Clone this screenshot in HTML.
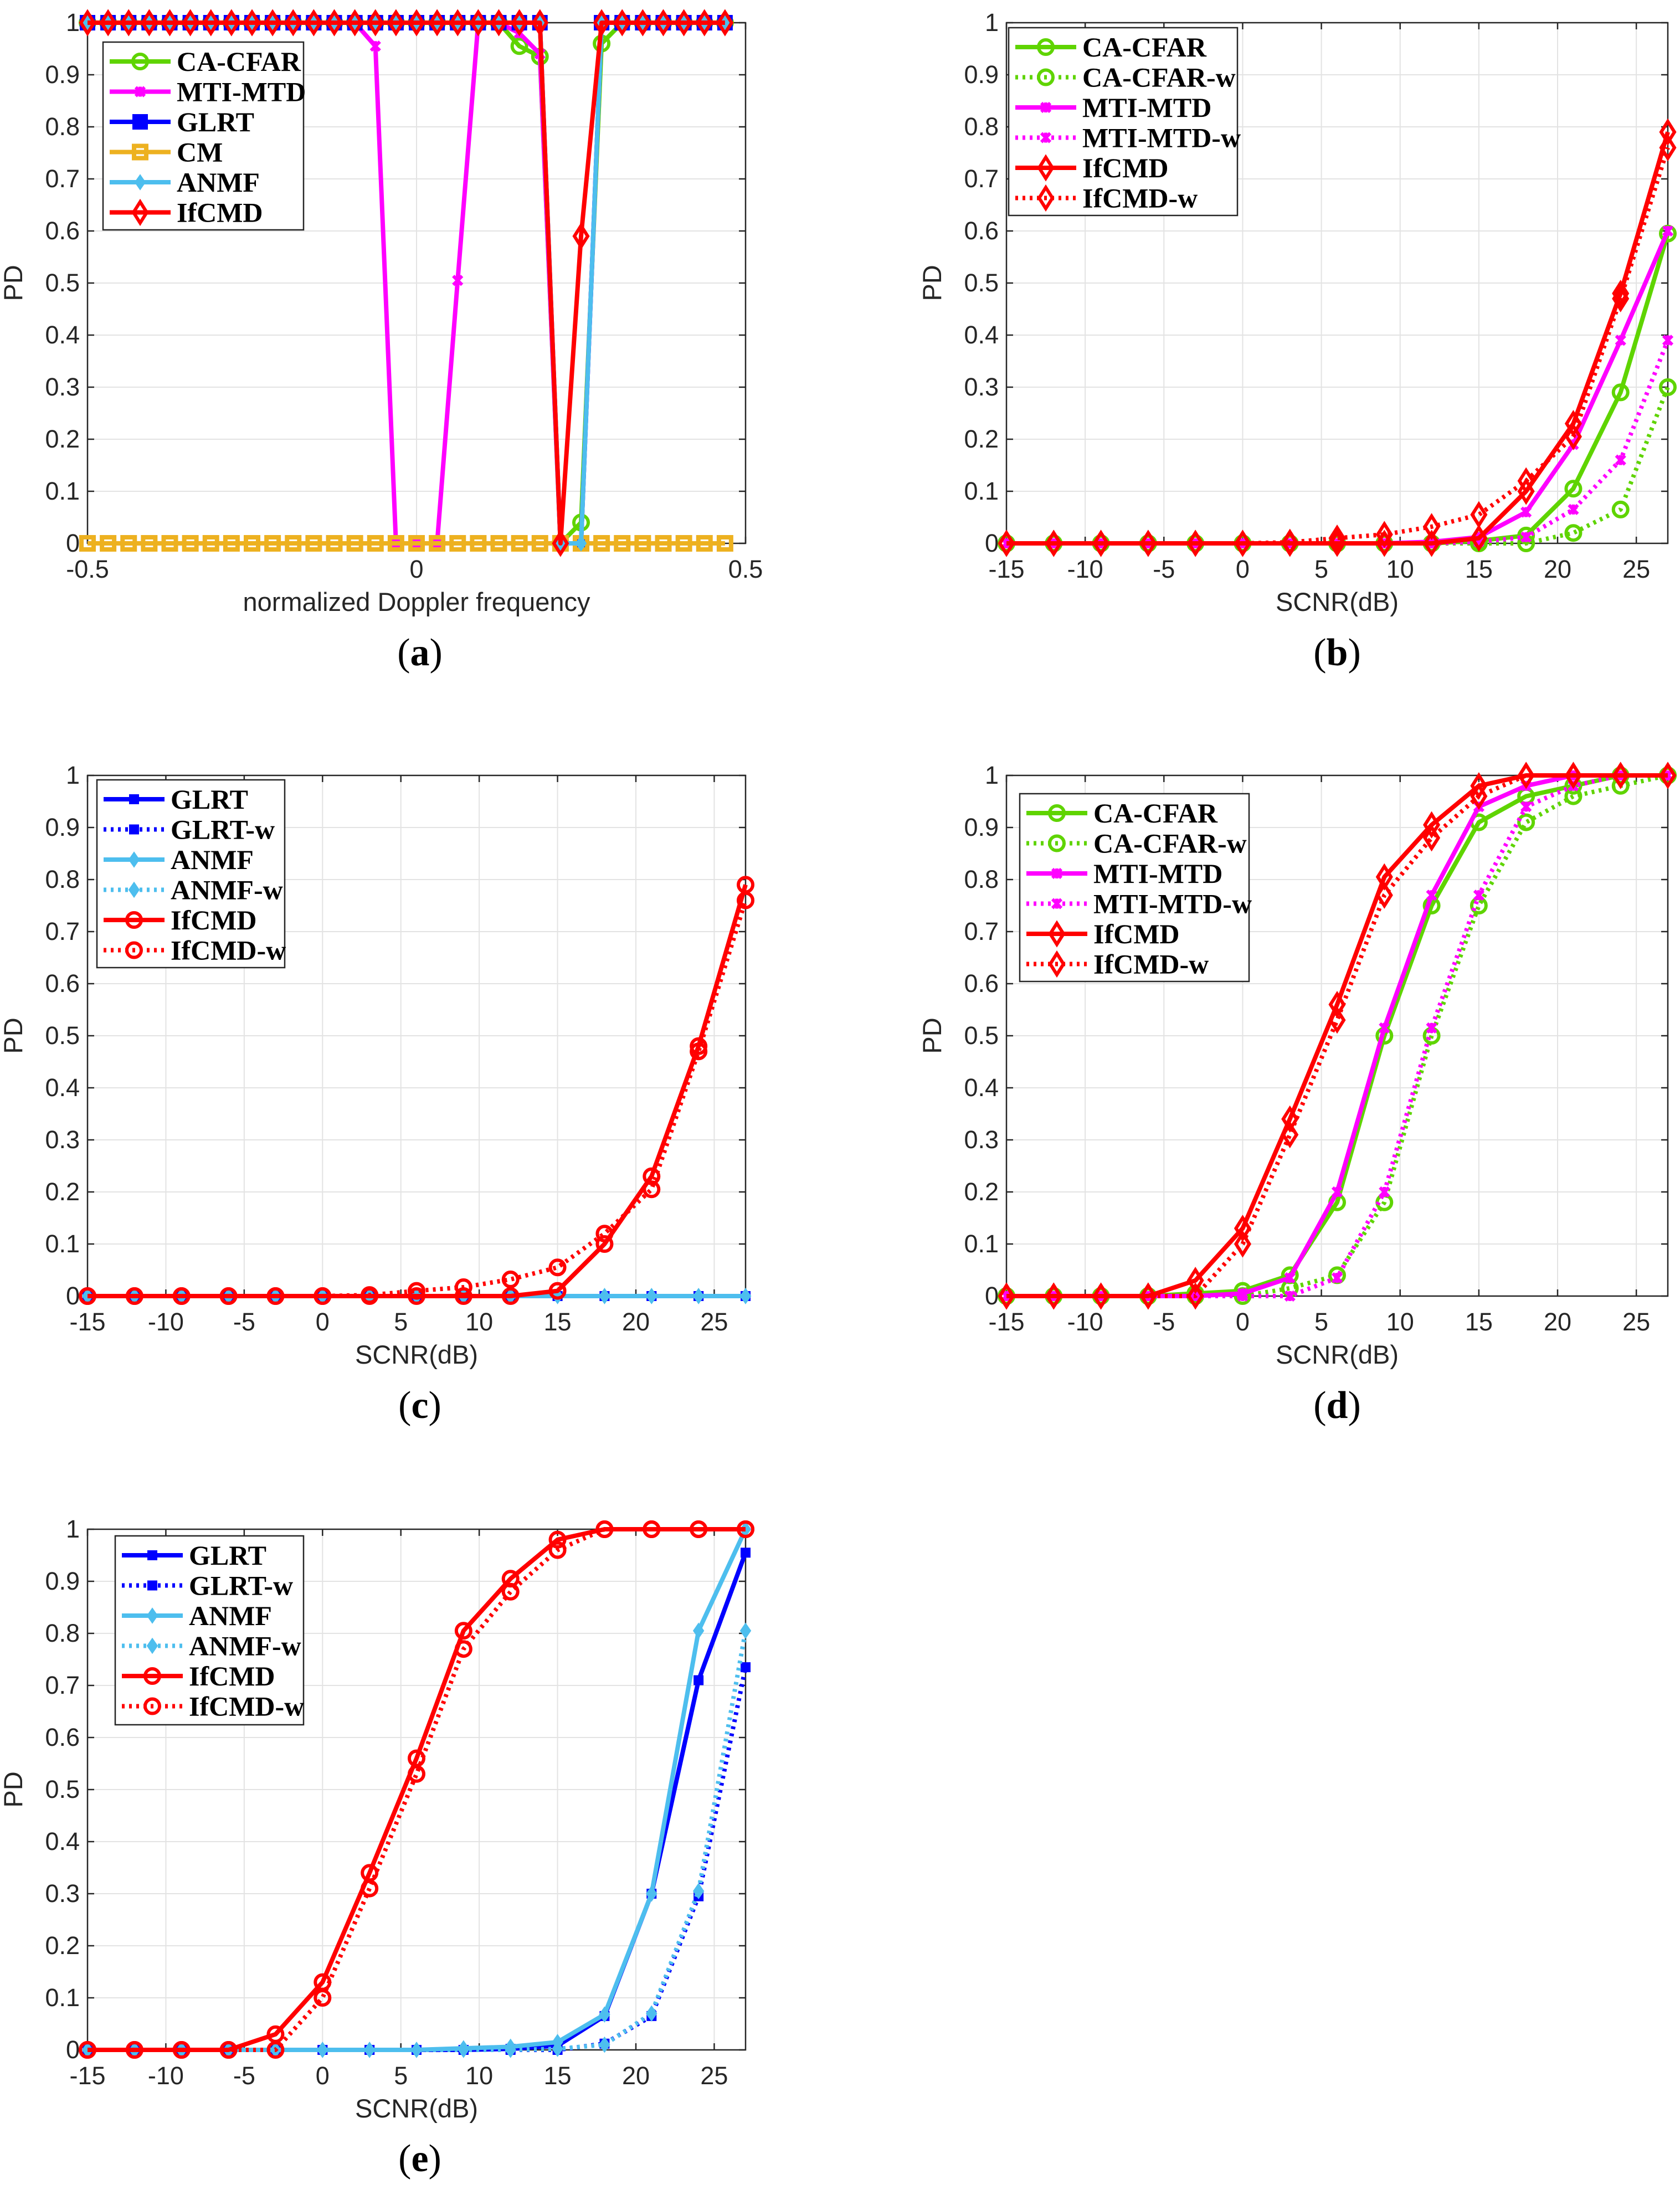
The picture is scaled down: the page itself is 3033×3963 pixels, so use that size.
<!DOCTYPE html>
<html><head><meta charset="utf-8">
<style>
html,body{margin:0;padding:0;background:#fff;}
svg{display:block;}
</style></head>
<body>
<svg id="fig" width="3033" height="3963" viewBox="0 0 3033 3963" xmlns="http://www.w3.org/2000/svg"></svg>
<script>
// ---------- data ----------
const scnrX = [-15,-12,-9,-6,-3,0,3,6,9,12,15,18,21,24,27];
const dopplerIdx = [0,1,2,3,4,5,6,7,8,9,10,11,12,13,14,15,16,17,18,19,20,21,22,23,24,25,26,27,28,29,30,31];
const yTickVals = [0,0.1,0.2,0.3,0.4,0.5,0.6,0.7,0.8,0.9,1];
const yTickLabels = ["0","0.1","0.2","0.3","0.4","0.5","0.6","0.7","0.8","0.9","1"];
const scnrTicks = [-15,-10,-5,0,5,10,15,20,25];
const dopTicks = [-0.5,0,0.5];

// panel (a)
const aCACFAR = [1,1,1,1,1,1,1,1,1,1,1,1,1,1,1,1,1,1,1,1,1,0.955,0.935,0,0.04,0.96,1,1,1,1,1,1];
const aMTIMTD = [1,1,1,1,1,1,1,1,1,1,1,1,1,1,0.955,0,0,0,0.505,1,1,0.98,0.94,0,0,1,1,1,1,1,1,1];
const aGLRT   = [1,1,1,1,1,1,1,1,1,1,1,1,1,1,1,1,1,1,1,1,1,1,1,0,0,1,1,1,1,1,1,1];
const aCM     = [0,0,0,0,0,0,0,0,0,0,0,0,0,0,0,0,0,0,0,0,0,0,0,0,0,0,0,0,0,0,0,0];
const aANMF   = [1,1,1,1,1,1,1,1,1,1,1,1,1,1,1,1,1,1,1,1,1,1,1,0,0,1,1,1,1,1,1,1];
const aIfCMD  = [1,1,1,1,1,1,1,1,1,1,1,1,1,1,1,1,1,1,1,1,1,1,1,0,0.59,1,1,1,1,1,1,1];

// panel (b)
const bCACFAR   = [0,0,0,0,0,0,0,0,0,0,0.005,0.015,0.105,0.29,0.595];
const bCACFARw  = [0,0,0,0,0,0,0,0,0,0,0,0,0.02,0.065,0.30];
const bMTIMTD   = [0,0,0,0,0,0,0,0,0,0.003,0.012,0.06,0.19,0.39,0.60];
const bMTIMTDw  = [0,0,0,0,0,0,0,0,0,0,0.003,0.012,0.065,0.16,0.39];
const bIfCMD    = [0,0,0,0,0,0,0,0,0,0,0.01,0.10,0.23,0.48,0.79];
const bIfCMDw   = [0,0,0,0,0,0,0.002,0.01,0.017,0.032,0.055,0.12,0.205,0.47,0.76];

// panel (c)
const cGLRT   = [0,0,0,0,0,0,0,0,0,0,0,0,0,0,0];
const cGLRTw  = [0,0,0,0,0,0,0,0,0,0,0,0,0,0,0];
const cANMF   = [0,0,0,0,0,0,0,0,0,0,0,0,0,0,0];
const cANMFw  = [0,0,0,0,0,0,0,0,0,0,0,0,0,0,0];
const cIfCMD  = [0,0,0,0,0,0,0,0,0,0,0.01,0.10,0.23,0.48,0.79];
const cIfCMDw = [0,0,0,0,0,0,0.002,0.01,0.017,0.032,0.055,0.12,0.205,0.47,0.76];

// panel (d)
const dCACFAR  = [0,0,0,0,0.005,0.01,0.04,0.18,0.50,0.75,0.91,0.96,0.98,1,1];
const dCACFARw = [0,0,0,0,0,0,0.015,0.04,0.18,0.50,0.75,0.91,0.96,0.98,1];
const dMTIMTD  = [0,0,0,0,0,0.005,0.035,0.20,0.515,0.77,0.94,0.98,1,1,1];
const dMTIMTDw = [0,0,0,0,0,0,0,0.035,0.20,0.515,0.77,0.94,0.98,1,1];
const dIfCMD   = [0,0,0,0,0.03,0.13,0.34,0.56,0.805,0.905,0.98,1,1,1,1];
const dIfCMDw  = [0,0,0,0,0,0.10,0.31,0.53,0.77,0.88,0.96,1,1,1,1];

// panel (e)
const eGLRT   = [0,0,0,0,0,0,0,0,0,0.002,0.008,0.065,0.30,0.71,0.955];
const eGLRTw  = [0,0,0,0,0,0,0,0,0,0,0,0.012,0.065,0.295,0.735];
const eANMF   = [0,0,0,0,0,0,0,0,0.003,0.006,0.015,0.068,0.30,0.805,1.0];
const eANMFw  = [0,0,0,0,0,0,0,0,0,0,0.002,0.01,0.07,0.305,0.805];
const eIfCMD  = [0,0,0,0,0.03,0.13,0.34,0.56,0.805,0.905,0.98,1,1,1,1];
const eIfCMDw = [0,0,0,0,0,0.10,0.31,0.53,0.77,0.88,0.96,1,1,1,1];

// ---------- drawing ----------
const NS = "http://www.w3.org/2000/svg";
const svg = document.getElementById('fig');
const GREEN="#5fd400", MAG="#ff00ff", BLUE="#0000ff", ORANGE="#edb120", LBLUE="#4dbeee", RED="#ff0000";

function el(tag, attrs, parent){
  const e = document.createElementNS(NS, tag);
  for (const k in attrs) e.setAttribute(k, attrs[k]);
  (parent||svg).appendChild(e);
  return e;
}

function drawMarker(g, type, x, y, color){
  let m;
  if (type==='o') m = el('circle',{cx:x,cy:y,r:13,fill:'none',stroke:color,'stroke-width':6},g);
  else if (type==='d') m = el('polygon',{points:`${x},${y-19} ${x+12},${y} ${x},${y+19} ${x-12},${y}`,fill:'none',stroke:color,'stroke-width':6},g);
  else if (type==='D') m = el('polygon',{points:`${x},${y-13} ${x+9},${y} ${x},${y+13} ${x-9},${y}`,fill:color,stroke:color,'stroke-width':2},g);
  else if (type==='S') m = el('rect',{x:x-13,y:y-13,width:26,height:26,fill:color,stroke:color,'stroke-width':2},g);
  else if (type==='s') m = el('rect',{x:x-8,y:y-8,width:16,height:16,fill:color,stroke:color,'stroke-width':2},g);
  else if (type==='q') m = el('rect',{x:x-11,y:y-11,width:22,height:22,fill:'none',stroke:color,'stroke-width':8},g);
  else if (type==='x') m = el('path',{d:`M${x-8},${y-8}L${x+8},${y+8}M${x-8},${y+8}L${x+8},${y-8}M${x},${y-9}L${x},${y+9}`,stroke:color,'stroke-width':6,fill:'none'},g);
  if (m){
    
    
  }
}

function panel(cfg){
  const g = el('g',{});
  
  
  const L=cfg.left, T=cfg.top, W=cfg.w, H=cfg.h;
  const sx = v => L + (v-cfg.xmin)/(cfg.xmax-cfg.xmin)*W;
  const sy = v => T + H - v*H;
  const grid = el('g',{},g);
   
  cfg.xticks.forEach(t=>{ if (t>cfg.xmin && t<cfg.xmax) el('line',{x1:sx(t),x2:sx(t),y1:T,y2:T+H,stroke:'#e3e3e3','stroke-width':2},grid); });
  yTickVals.forEach(t=>{ if (t>0 && t<1) el('line',{x1:L,x2:L+W,y1:sy(t),y2:sy(t),stroke:'#e3e3e3','stroke-width':2},grid); });
  const box = el('rect',{x:L,y:T,width:W,height:H,fill:'none',stroke:'#262626','stroke-width':2.5},g);
   
  cfg.xticks.forEach((t,i)=>{
    const x=sx(t);
    el('line',{x1:x,x2:x,y1:T+H,y2:T+H-12,stroke:'#262626','stroke-width':2.5},g);
    el('line',{x1:x,x2:x,y1:T,y2:T+12,stroke:'#262626','stroke-width':2.5},g);
    const tx = el('text',{x:x,y:T+H+62,'font-family':'Liberation Sans, sans-serif','font-size':45,fill:'#262626','text-anchor':'middle'},g);
    tx.textContent = cfg.xlabels[i];
     
  });
  yTickVals.forEach((t,i)=>{
    const y=sy(t);
    el('line',{x1:L,x2:L+12,y1:y,y2:y,stroke:'#262626','stroke-width':2.5},g);
    el('line',{x1:L+W,x2:L+W-12,y1:y,y2:y,stroke:'#262626','stroke-width':2.5},g);
    const ty = el('text',{x:L-14,y:y+15,'font-family':'Liberation Sans, sans-serif','font-size':45,fill:'#262626','text-anchor':'end'},g);
    ty.textContent = yTickLabels[i];
     
  });
  const xl = el('text',{x:L+W/2,y:T+H+122,'font-family':'Liberation Sans, sans-serif','font-size':47,fill:'#262626','text-anchor':'middle'},g);
  xl.textContent = cfg.xtitle;
   
  const yx = L-118, yy = T+H/2;
  const yl = el('text',{x:yx,y:yy,'font-family':'Liberation Sans, sans-serif','font-size':47,fill:'#262626','text-anchor':'middle',transform:`rotate(-90 ${yx} ${yy})`},g);
  yl.textContent = 'PD';
   
  cfg.series.forEach(s=>{
    const sg = el('g',{},g);
    
    
    const pts = s.y.map((v,i)=>`${sx(cfg.xs(i))},${sy(v)}`).join(' ');
    const attrs = {points:pts,fill:'none',stroke:s.color,'stroke-width':8,'stroke-linejoin':'round'};
    if (s.dot) attrs['stroke-dasharray']='5 8';
    const pl = el('polyline',attrs,sg);
    
    
    s.y.forEach((v,i)=>drawMarker(sg,s.m,sx(cfg.xs(i)),sy(v),s.color));
  });
  const lg = cfg.legend;
  const leg = el('g',{},g);
   
  el('rect',{x:lg.x,y:lg.y,width:lg.w,height:lg.h,fill:'#fff',stroke:'#262626','stroke-width':2.5},leg);
  cfg.series.forEach((s,i)=>{
    const yy = lg.y + 35 + i*54.5;
    const eg = el('g',{},leg);
    
    
    const la = {x1:lg.x+12,x2:lg.x+122,y1:yy,y2:yy,stroke:s.color,'stroke-width':8};
    if (s.dot) la['stroke-dasharray']='5 8';
    el('line',la,eg);
    drawMarker(eg,s.m,lg.x+67,yy,s.color);
    const t = el('text',{x:lg.x+133,y:yy+17,'font-family':'Liberation Serif, serif','font-weight':'bold','font-size':50,fill:'#000'},eg);
    t.textContent = s.name;
  });
  const cap = el('text',{x:cfg.capX,y:cfg.capY,'font-family':'Liberation Serif, serif','font-size':70,fill:'#000','text-anchor':'middle'},g);
   
  cap.innerHTML = `(<tspan font-weight="bold">${cfg.id}</tspan>)`;
}

const scnrCfg = {xmin:-15,xmax:27,xticks:scnrTicks,xlabels:scnrTicks.map(String),xtitle:'SCNR(dB)',xs:i=>scnrX[i]};
const LW=1188, RW=1194, H=940;

panel({id:'a',left:158,top:41,w:LW,h:H,xmin:-0.5,xmax:0.5,xticks:dopTicks,xlabels:['-0.5','0','0.5'],
  xtitle:'normalized Doppler frequency',xs:i=>-0.5+dopplerIdx[i]/32,
  capX:758,capY:1201,legend:{x:186,y:76,w:362,h:339},
  series:[
    {name:'CA-CFAR',y:aCACFAR,color:GREEN,m:'o'},
    {name:'MTI-MTD',y:aMTIMTD,color:MAG,m:'x'},
    {name:'GLRT',y:aGLRT,color:BLUE,m:'S'},
    {name:'CM',y:aCM,color:ORANGE,m:'q'},
    {name:'ANMF',y:aANMF,color:LBLUE,m:'D'},
    {name:'IfCMD',y:aIfCMD,color:RED,m:'d'}]});

panel(Object.assign({},scnrCfg,{id:'b',left:1817,top:41,w:RW,h:H,capX:2414,capY:1201,
  legend:{x:1821,y:50,w:413,h:339},
  series:[
    {name:'CA-CFAR',y:bCACFAR,color:GREEN,m:'o'},
    {name:'CA-CFAR-w',y:bCACFARw,color:GREEN,m:'o',dot:1},
    {name:'MTI-MTD',y:bMTIMTD,color:MAG,m:'x'},
    {name:'MTI-MTD-w',y:bMTIMTDw,color:MAG,m:'x',dot:1},
    {name:'IfCMD',y:bIfCMD,color:RED,m:'d'},
    {name:'IfCMD-w',y:bIfCMDw,color:RED,m:'d',dot:1}]}));

panel(Object.assign({},scnrCfg,{id:'c',left:158,top:1400,w:LW,h:H,capX:758,capY:2560,
  legend:{x:175,y:1408,w:339,h:339},
  series:[
    {name:'GLRT',y:cGLRT,color:BLUE,m:'s'},
    {name:'GLRT-w',y:cGLRTw,color:BLUE,m:'s',dot:1},
    {name:'ANMF',y:cANMF,color:LBLUE,m:'D'},
    {name:'ANMF-w',y:cANMFw,color:LBLUE,m:'D',dot:1},
    {name:'IfCMD',y:cIfCMD,color:RED,m:'o'},
    {name:'IfCMD-w',y:cIfCMDw,color:RED,m:'o',dot:1}]}));

panel(Object.assign({},scnrCfg,{id:'d',left:1817,top:1400,w:RW,h:H,capX:2414,capY:2560,
  legend:{x:1841,y:1433,w:414,h:339},
  series:[
    {name:'CA-CFAR',y:dCACFAR,color:GREEN,m:'o'},
    {name:'CA-CFAR-w',y:dCACFARw,color:GREEN,m:'o',dot:1},
    {name:'MTI-MTD',y:dMTIMTD,color:MAG,m:'x'},
    {name:'MTI-MTD-w',y:dMTIMTDw,color:MAG,m:'x',dot:1},
    {name:'IfCMD',y:dIfCMD,color:RED,m:'d'},
    {name:'IfCMD-w',y:dIfCMDw,color:RED,m:'d',dot:1}]}));

panel(Object.assign({},scnrCfg,{id:'e',left:158,top:2761,w:LW,h:H,capX:758,capY:3920,
  legend:{x:208,y:2773,w:340,h:341},
  series:[
    {name:'GLRT',y:eGLRT,color:BLUE,m:'s'},
    {name:'GLRT-w',y:eGLRTw,color:BLUE,m:'s',dot:1},
    {name:'ANMF',y:eANMF,color:LBLUE,m:'D'},
    {name:'ANMF-w',y:eANMFw,color:LBLUE,m:'D',dot:1},
    {name:'IfCMD',y:eIfCMD,color:RED,m:'o'},
    {name:'IfCMD-w',y:eIfCMDw,color:RED,m:'o',dot:1}]}));
</script>
</body></html>
